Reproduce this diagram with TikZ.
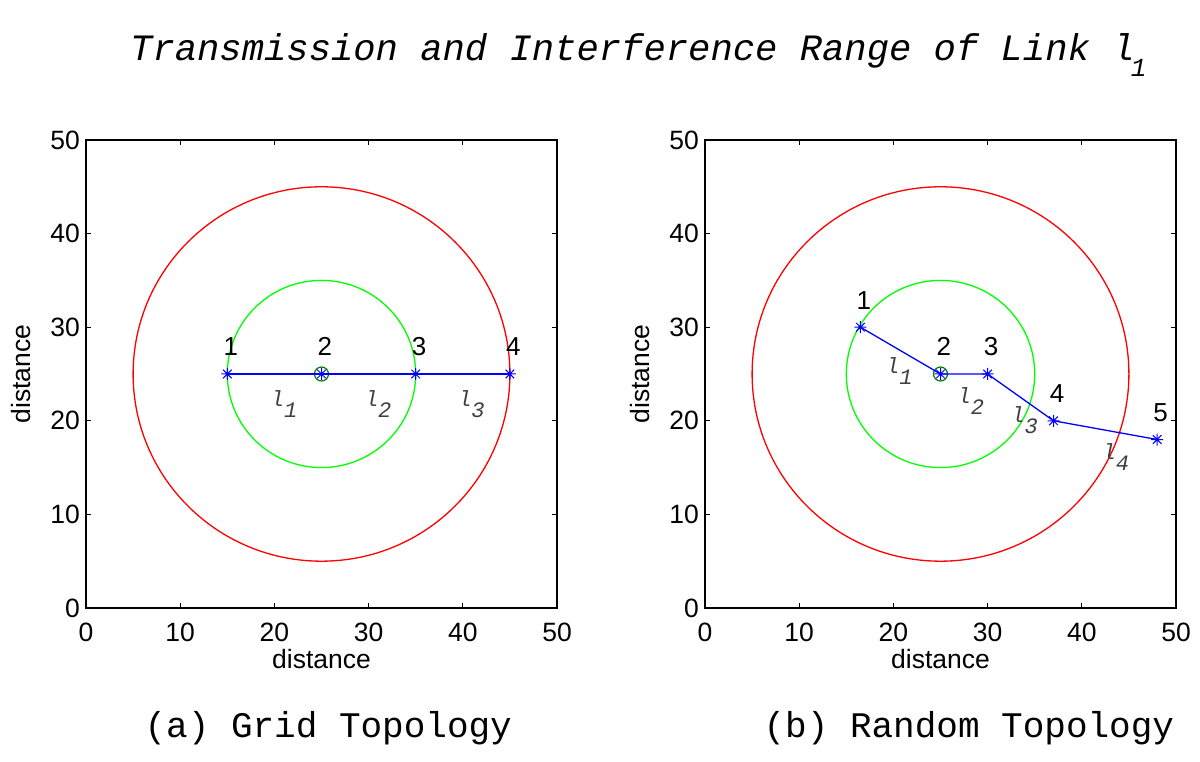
\documentclass[tikz,border=0pt]{standalone}
\usepackage{fontspec}
\usetikzlibrary{positioning}
\newfontfamily\plotfont{Liberation Sans}
\newfontfamily\capfont{Liberation Mono}
\newcommand{\linkl}[1]{l\raisebox{-0.5em}{#1}}

\begin{document}
\begin{tikzpicture}[
    x=1pt, y=1pt,
    frame/.style={black, line width=1.2pt},
    ticklbl/.style={font=\plotfont\fontsize{26.5}{30}\selectfont, inner sep=0pt},
    num/.style={font=\plotfont\fontsize{26}{30}\selectfont, inner sep=0pt, anchor=base west},
    lnk/.style={font=\capfont\itshape\fontsize{22}{26}\selectfont, text=black!75, inner sep=0pt, anchor=base west},
    caption/.style={font=\capfont\fontsize{36}{40}\selectfont, inner sep=0pt, anchor=base west},
    pt/.style={inner sep=0pt, minimum size=0pt},
    link/.style={blue, line width=1.3pt},
    txrange/.style={green, line width=1.3pt},
    ifrange/.style={red, line width=1.3pt},
    hub/.style={draw=green!50!black, line width=1.2pt, circle, inner sep=0pt, minimum size=14pt},
    asterisk/.pic={\draw[blue, line width=1pt] (-6pt,0pt) -- (6pt,0pt) (0pt,-6pt) -- (0pt,6pt)
        (-4.3pt,-4.3pt) -- (4.3pt,4.3pt) (-4.3pt,4.3pt) -- (4.3pt,-4.3pt);}
]
\fill[white] (0,0) rectangle (1200,762);
\useasboundingbox (0,0) rectangle (1200,762);

% title
\node[caption, font=\capfont\itshape\fontsize{37.2}{40}\selectfont] (title) at (130,701)
    {Transmission and Interference Range of Link l\hspace{-4pt}\raisebox{-0.42em}{\fontsize{26}{30}\selectfont 1}};

% both axes
\foreach \ox/\cap in {86/{(a) Grid Topology}, 705/{(b) Random Topology}} {
  \begin{scope}[shift={(\ox pt,154pt)}, x=9.42pt, y=9.36pt]
    \draw[frame] (0,0) rectangle (50,50);
    \foreach \t in {0,10,...,50} {
      \draw[frame] (\t,0) -- ++(0pt,5pt) (\t,50) -- ++(0pt,-5pt)
                   (0,\t) -- ++(5pt,0pt) (50,\t) -- ++(-5pt,0pt);
      \node[ticklbl, anchor=north, yshift=-15pt] at (\t,0) {\t};
      \node[ticklbl, anchor=east, xshift=-6pt] at (0,\t) {\t};
    }
    \node[ticklbl, anchor=north, yshift=-41pt] at (25,0) {distance};
    \node[ticklbl, rotate=90] at (-6.9,25) {distance};
    \node[caption] at (6.2,-13.8) {\cap};
    \draw[ifrange] (25,25) circle [radius=20];
    \draw[txrange] (25,25) circle [radius=10];
  \end{scope}
}

% (a) grid topology
\begin{scope}[shift={(86pt,154pt)}, x=9.42pt, y=9.36pt]
  \foreach \i/\px in {1/15, 2/25, 3/35, 4/45} {
    \node[pt] (a\i) at (\px,25) {};
    \node[num, xshift=-4pt, yshift=18pt] (na\i) at (a\i) {\i};
  }
  \node[hub] (ahub) at (a2) {};
  \draw[link] (a1) -- (a2) -- (a3) -- (a4);
  \foreach \i in {1,...,4} \pic at (a\i) {asterisk};
  \node[lnk] (al1) at (19.6,21.5) {\linkl{1}};
  \node[lnk] (al2) at (29.6,21.5) {\linkl{2}};
  \node[lnk] (al3) at (39.5,21.5) {\linkl{3}};
\end{scope}

% (b) random topology
\begin{scope}[shift={(705pt,154pt)}, x=9.42pt, y=9.36pt]
  \foreach \i/\px/\py in {1/16.5/30, 2/25/25, 3/30/25, 4/37/20, 5/48/18} {
    \node[pt] (b\i) at (\px,\py) {};
    \node[num, xshift=-4pt, yshift=18pt] (nb\i) at (b\i) {\i};
  }
  \node[hub] (bhub) at (b2) {};
  \draw[link] (b1) -- (b2) -- (b3) -- (b4) -- (b5);
  \foreach \i in {1,...,5} \pic at (b\i) {asterisk};
  \node[lnk] (bl1) at (19.2,25.0) {\linkl{1}};
  \node[lnk] (bl2) at (26.8,21.9) {\linkl{2}};
  \node[lnk] (bl3) at (32.5,19.8) {\linkl{3}};
  \node[lnk] (bl4) at (42.2,15.9) {\linkl{4}};
\end{scope}
\end{tikzpicture}
\end{document}
